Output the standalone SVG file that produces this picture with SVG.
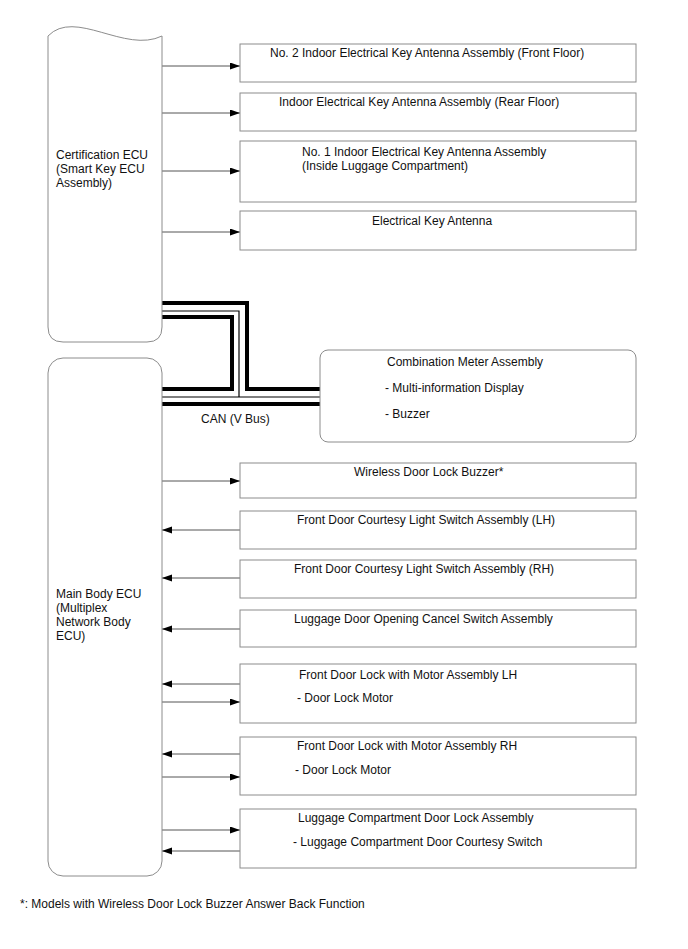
<svg xmlns="http://www.w3.org/2000/svg" width="688" height="949" viewBox="0 0 688 949">
<style>
text{font-family:"Liberation Sans",Arial,sans-serif;font-size:12px;fill:#111}
.box{fill:#fff;stroke:#8c8c8c;stroke-width:1}
.ln{stroke:#555;stroke-width:1;fill:none}
.thick{stroke:#000;stroke-width:4;fill:none}
.thin{stroke:#000;stroke-width:1.2;fill:none}
</style>
<defs>
<marker id="ah" markerUnits="userSpaceOnUse" markerWidth="10" markerHeight="8" refX="10" refY="3.5" orient="auto"><path d="M0,0 L10,3.5 L0,7 Z" fill="#000"/></marker>
</defs>
<rect width="688" height="949" fill="#fff"/>
<g id="connectors">
<line class="ln" x1="162" y1="66" x2="240" y2="66" marker-end="url(#ah)"/>
<line class="ln" x1="162" y1="113" x2="240" y2="113" marker-end="url(#ah)"/>
<line class="ln" x1="162" y1="171" x2="240" y2="171" marker-end="url(#ah)"/>
<line class="ln" x1="162" y1="232" x2="240" y2="232" marker-end="url(#ah)"/>
<line class="ln" x1="162" y1="481" x2="240" y2="481" marker-end="url(#ah)"/>
<line class="ln" x1="240" y1="530" x2="162" y2="530" marker-end="url(#ah)"/>
<line class="ln" x1="240" y1="578" x2="162" y2="578" marker-end="url(#ah)"/>
<line class="ln" x1="240" y1="629" x2="162" y2="629" marker-end="url(#ah)"/>
<line class="ln" x1="240" y1="684" x2="162" y2="684" marker-end="url(#ah)"/>
<line class="ln" x1="162" y1="702" x2="240" y2="702" marker-end="url(#ah)"/>
<line class="ln" x1="240" y1="754" x2="162" y2="754" marker-end="url(#ah)"/>
<line class="ln" x1="162" y1="777" x2="240" y2="777" marker-end="url(#ah)"/>
<line class="ln" x1="162" y1="830" x2="240" y2="830" marker-end="url(#ah)"/>
<line class="ln" x1="240" y1="851" x2="162" y2="851" marker-end="url(#ah)"/>
<g id="can-bus">
<path class="thick" d="M162,303 H247 V389 H320"/>
<path class="thin" d="M162,311 H239 V397"/>
<path class="thin" d="M162,397 H320"/>
<path class="thick" d="M162,317 H232 V389 H162"/>
<path class="thick" d="M162,404 H320"/>
<text x="201" y="423">CAN (V Bus)</text>
</g>
</g>
<g id="cert-ecu">
<path class="box" d="M48,36 C75,8 125,54 162,36 V327 Q162,342 147,342 H63 Q48,342 48,327 Z"/>
<text x="56" y="159">Certification ECU</text>
<text x="56" y="173">(Smart Key ECU</text>
<text x="56" y="187">Assembly)</text>
</g>
<g id="main-body-ecu">
<rect class="box" x="48" y="358" width="114" height="518" rx="15"/>
<text x="56" y="598">Main Body ECU</text>
<text x="56" y="612">(Multiplex</text>
<text x="56" y="626">Network Body</text>
<text x="56" y="640">ECU)</text>
</g>
<g id="antenna-front">
<rect class="box" x="240" y="44" width="396" height="38"/>
<text x="270" y="57">No. 2 Indoor Electrical Key Antenna Assembly (Front Floor)</text>
</g>
<g id="antenna-rear">
<rect class="box" x="240" y="93" width="396" height="38"/>
<text x="279" y="106">Indoor Electrical Key Antenna Assembly (Rear Floor)</text>
</g>
<g id="antenna-luggage">
<rect class="box" x="240" y="141" width="396" height="61"/>
<text x="302" y="156">No. 1 Indoor Electrical Key Antenna Assembly</text>
<text x="302" y="170">(Inside Luggage Compartment)</text>
</g>
<g id="electrical-key-antenna">
<rect class="box" x="240" y="211" width="396" height="39"/>
<text x="372" y="225">Electrical Key Antenna</text>
</g>
<g id="combination-meter">
<rect class="box" x="320" y="350" width="316" height="92" rx="8"/>
<text x="387" y="366">Combination Meter Assembly</text>
<text x="385" y="392">- Multi-information Display</text>
<text x="385" y="418">- Buzzer</text>
</g>
<g id="wireless-buzzer">
<rect class="box" x="240" y="463" width="396" height="35"/>
<text x="354" y="476">Wireless Door Lock Buzzer*</text>
</g>
<g id="courtesy-lh">
<rect class="box" x="240" y="511" width="396" height="38"/>
<text x="297" y="524">Front Door Courtesy Light Switch Assembly (LH)</text>
</g>
<g id="courtesy-rh">
<rect class="box" x="240" y="560" width="396" height="38"/>
<text x="294" y="573">Front Door Courtesy Light Switch Assembly (RH)</text>
</g>
<g id="luggage-cancel">
<rect class="box" x="240" y="610" width="396" height="37"/>
<text x="294" y="623">Luggage Door Opening Cancel Switch Assembly</text>
</g>
<g id="door-lock-lh">
<rect class="box" x="240" y="664" width="396" height="59"/>
<text x="299" y="679">Front Door Lock with Motor Assembly LH</text>
<text x="297" y="702">- Door Lock Motor</text>
</g>
<g id="door-lock-rh">
<rect class="box" x="240" y="737" width="396" height="58"/>
<text x="297" y="750">Front Door Lock with Motor Assembly RH</text>
<text x="295" y="774">- Door Lock Motor</text>
</g>
<g id="luggage-lock">
<rect class="box" x="240" y="809" width="396" height="59"/>
<text x="298" y="822">Luggage Compartment Door Lock Assembly</text>
<text x="293" y="846">- Luggage Compartment Door Courtesy Switch</text>
</g>
<text x="20" y="908">*: Models with Wireless Door Lock Buzzer Answer Back Function</text>
</svg>
